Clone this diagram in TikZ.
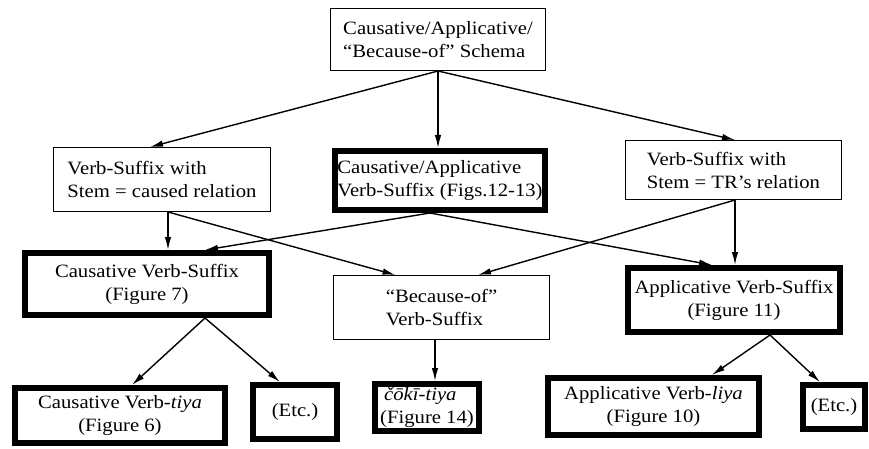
\documentclass[tikz,border=0pt]{standalone}
\usepackage{fontspec}
\setmainfont{Liberation Serif}[FakeStretch=1.1]
\usetikzlibrary{arrows.meta,calc}

\tikzset{
  boxtext/.style={font=\fontsize{18.8}{23}\selectfont, inner sep=0pt},
  thinbox/.style={boxtext, draw, line width=1.4pt},
  boldbox/.style={boxtext, draw, line width=6pt},
  link/.style={line width=1.4pt, -{Latex[length=13pt,width=6.5pt]}}
}

\begin{document}
\begin{tikzpicture}[x=1pt,y=-1pt]
  \useasboundingbox[fill=white] (0,0) rectangle (869,449);

  % top level
  \node[thinbox, align=left, minimum width=214.6, minimum height=61.6] (T) at (438,39.5)
    {Causative/Applicative/\\``Because-of'' Schema};

  % second level
  \node[thinbox, align=left, minimum width=216.6, minimum height=63.6] (L2) at (162,179.5)
    {Verb-Suffix with\\Stem = caused relation};
  \node[boldbox, align=left, minimum width=210, minimum height=59] (M2) at (440,180.5)
    {Causative/Applicative\\Verb-Suffix (Figs.12-13)};
  \node[thinbox, align=left, minimum width=215.6, minimum height=58.6] (R2) at (733.5,170)
    {Verb-Suffix with\\Stem = TR's relation};

  % third level
  \node[boldbox, align=center, minimum width=244, minimum height=62] (L3) at (147,284)
    {Causative Verb-Suffix\\(Figure 7)};
  \node[thinbox, align=left, minimum width=215.6, minimum height=63.6] (M3) at (441.5,307.5)
    {``Because-of''\\Verb-Suffix};
  \node[boldbox, align=center, minimum width=212, minimum height=64] (R3) at (734,300)
    {Applicative Verb-Suffix\\(Figure 11)};

  % fourth level
  \node[boldbox, align=center, minimum width=210, minimum height=55] (L4a) at (120,415.5)
    {Causative Verb-\textit{tiya}\\(Figure 6)};
  \node[boldbox, minimum width=84, minimum height=54] (L4b) at (295,412) {(Etc.)};
  \node[boldbox, align=left, minimum width=104, minimum height=47] (M4) at (427,407.5)
    {\hspace{4pt}\textit{čōkī-tiya}\\(Figure 14)};
  \node[boldbox, align=center, minimum width=211, minimum height=57] (R4a) at (653.5,406.5)
    {Applicative Verb-\textit{liya}\\(Figure 10)};
  \node[boldbox, minimum width=62, minimum height=44] (R4b) at (834,407) {(Etc.)};

  % branching points on the lower edges
  \coordinate (hL2) at ([xshift=6]L2.south);
  \coordinate (hM2) at ([xshift=-10]M2.south);
  \coordinate (hR2) at ([xshift=1.5]R2.south);
  \coordinate (hL3) at ([xshift=58]L3.south);
  \coordinate (hM3) at ([xshift=-6.5]M3.south);
  \coordinate (hR3) at ([xshift=36]R3.south);

  % connectors
  \draw[link] (T.south) -- ([xshift=-12]L2.north);
  \draw[link] (T.south) -- (T.south |- M2.north);
  \draw[link] (T.south) -- ([xshift=1.5]R2.north);

  \draw[link] (hL2) -- (hL2 |- L3.north);
  \draw[link] (hL2) -- ([xshift=-46]M3.north);
  \draw[link] (hM2) -- ([xshift=58]L3.north);
  \draw[link] (hM2) -- ([xshift=-22]R3.north);
  \draw[link] (hR2) -- ([xshift=36.5]M3.north);
  \draw[link] (hR2) -- (hR2 |- R3.north);

  \draw[link] (hL3) -- ([xshift=12]L4a.north);
  \draw[link] (hL3) -- ([xshift=-15]L4b.north);
  \draw[link] (hM3) -- (hM3 |- M4.north);
  \draw[link] (hR3) -- ([xshift=58.5]R4a.north);
  \draw[link] (hR3) -- ([xshift=-14]R4b.north);
\end{tikzpicture}
\end{document}
